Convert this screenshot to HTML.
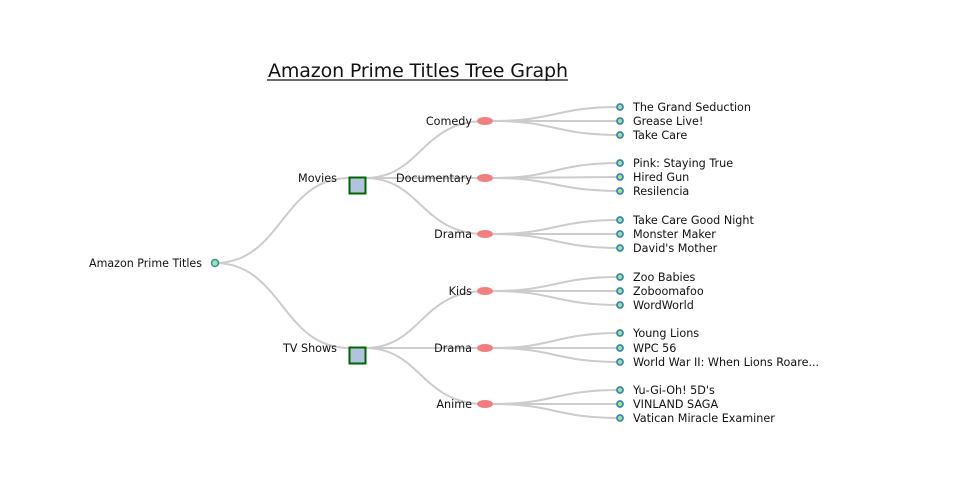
<!DOCTYPE html>
<html><head><meta charset="utf-8"><style>
html,body{margin:0;padding:0;background:#fff;width:960px;height:500px;overflow:hidden}
svg text{font-family:"DejaVu Sans","Liberation Sans",sans-serif;font-size:11.2px;fill:#111}
</style></head><body>
<svg width="960" height="500" viewBox="0 0 960 500" xmlns="http://www.w3.org/2000/svg">
<g fill="none" stroke="#ccc" stroke-width="2">
<path d="M215 263 C282 263,282 178,349 178"/>
<path d="M215 263 C282 263,282 348,349 348"/>
<path d="M365 178 C421 178,421 121,485 121"/>
<path d="M365 178 L485 178"/>
<path d="M365 178 C421 178,421 234,485 234"/>
<path d="M365 348 C421 348,421 291,485 291"/>
<path d="M365 348 L485 348"/>
<path d="M365 348 C421 348,421 404,485 404"/>
<path d="M493 121 C555 121,555 107,620 107"/><path d="M493 121 L620 121"/><path d="M493 121 C555 121,555 135,620 135"/>
<path d="M493 178 C555 178,555 163,620 163"/><path d="M493 178 L620 177"/><path d="M493 178 C555 178,555 191,620 191"/>
<path d="M493 234 C555 234,555 220,620 220"/><path d="M493 234 L620 234"/><path d="M493 234 C555 234,555 248,620 248"/>
<path d="M493 291 C555 291,555 277,620 277"/><path d="M493 291 L620 291"/><path d="M493 291 C555 291,555 305,620 305"/>
<path d="M493 348 C555 348,555 333,620 333"/><path d="M493 348 L620 348"/><path d="M493 348 C555 348,555 362,620 362"/>
<path d="M493 404 C555 404,555 390,620 390"/><path d="M493 404 L620 404"/><path d="M493 404 C555 404,555 418,620 418"/>
</g>
<text x="418" y="77" text-anchor="middle" style="font-size:19px" textLength="300">Amazon Prime Titles Tree Graph</text>
<line x1="267" y1="80" x2="568" y2="80" stroke="#111" stroke-width="1.3"/>
<circle cx="215" cy="263" r="3.5" fill="#90ee90" stroke="#4682b4" stroke-width="1.5"/>
<text x="202" y="267" text-anchor="end" textLength="113" lengthAdjust="spacingAndGlyphs">Amazon Prime Titles</text>
<rect x="349.5" y="177.5" width="16" height="16" fill="#b0c4de" stroke="#006400" stroke-width="2"/>
<rect x="349.5" y="347.5" width="16" height="16" fill="#b0c4de" stroke="#006400" stroke-width="2"/>
<text x="337" y="182" text-anchor="end">Movies</text>
<text x="337" y="352" text-anchor="end">TV Shows</text>
<g fill="#f08080">
<ellipse cx="485" cy="121" rx="8" ry="4"/><ellipse cx="485" cy="178" rx="8" ry="4"/><ellipse cx="485" cy="234" rx="8" ry="4"/>
<ellipse cx="485" cy="291" rx="8" ry="4"/><ellipse cx="485" cy="348" rx="8" ry="4"/><ellipse cx="485" cy="404" rx="8" ry="4"/>
</g>
<g text-anchor="end">
<text x="472" y="125">Comedy</text><text x="472" y="182">Documentary</text><text x="472" y="238">Drama</text>
<text x="472" y="295">Kids</text><text x="472" y="352">Drama</text><text x="472" y="408">Anime</text>
</g>
<g fill="#90ee90" stroke="#4682b4" stroke-width="1.8">
<circle cx="620" cy="107" r="3"/><circle cx="620" cy="121" r="3"/><circle cx="620" cy="135" r="3"/>
<circle cx="620" cy="163" r="3"/><circle cx="620" cy="177" r="3"/><circle cx="620" cy="191" r="3"/>
<circle cx="620" cy="220" r="3"/><circle cx="620" cy="234" r="3"/><circle cx="620" cy="248" r="3"/>
<circle cx="620" cy="277" r="3"/><circle cx="620" cy="291" r="3"/><circle cx="620" cy="305" r="3"/>
<circle cx="620" cy="333" r="3"/><circle cx="620" cy="348" r="3"/><circle cx="620" cy="362" r="3"/>
<circle cx="620" cy="390" r="3"/><circle cx="620" cy="404" r="3"/><circle cx="620" cy="418" r="3"/>
</g>
<g>
<text x="633" y="111">The Grand Seduction</text><text x="633" y="125">Grease Live!</text><text x="633" y="139">Take Care</text>
<text x="633" y="167">Pink: Staying True</text><text x="633" y="181">Hired Gun</text><text x="633" y="195">Resilencia</text>
<text x="633" y="224">Take Care Good Night</text><text x="633" y="238">Monster Maker</text><text x="633" y="252">David's Mother</text>
<text x="633" y="281">Zoo Babies</text><text x="633" y="295">Zoboomafoo</text><text x="633" y="309">WordWorld</text>
<text x="633" y="337">Young Lions</text><text x="633" y="352">WPC 56</text><text x="633" y="366">World War II: When Lions Roare...</text>
<text x="633" y="394">Yu-Gi-Oh! 5D's</text><text x="633" y="408">VINLAND SAGA</text><text x="633" y="422">Vatican Miracle Examiner</text>
</g>
</svg>
</body></html>
